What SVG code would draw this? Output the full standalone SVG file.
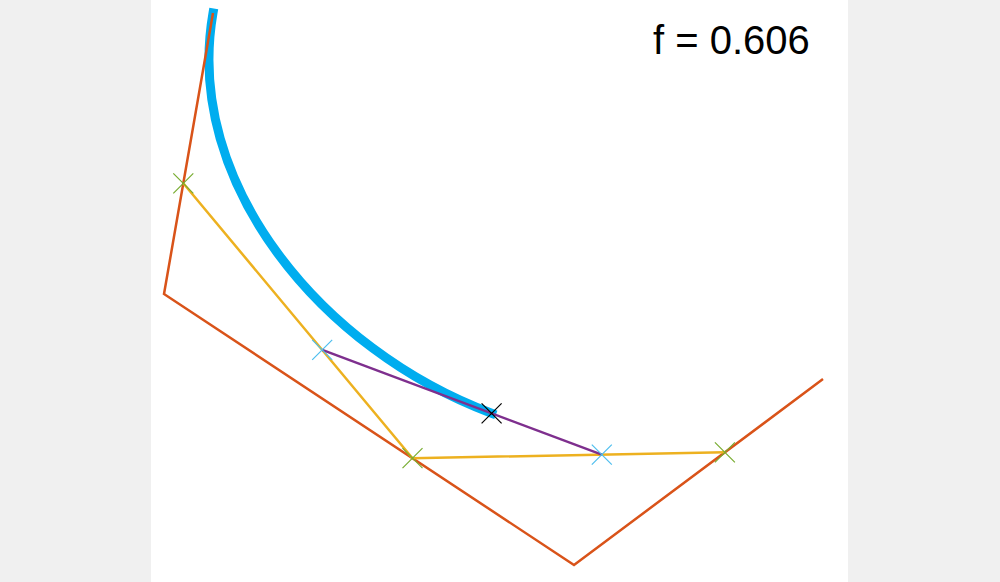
<svg xmlns="http://www.w3.org/2000/svg" width="1000" height="582" viewBox="0 0 1000 582">
<style>
.ln{fill:none;stroke-width:2.5;stroke-linejoin:miter}
.mk{fill:none;stroke-width:1.2}
</style>
<defs>
<path id="x" d="M-10,-10L10,10M-10,10L10,-10"/>
</defs>
<rect x="0" y="0" width="1000" height="582" fill="#f0f0f0"/>
<rect x="151" y="0" width="697" height="582" fill="#ffffff"/>
<g id="connectors">
<path id="curve" d="M213,13 C183.3,183.3 322.2,349.9 491.6,413.3" fill="none" stroke="#00adef" stroke-width="9" stroke-linecap="square"/>
<polyline class="ln" stroke="#d95319" points="213,13 164,294 574,565 823,379"/>
<polyline class="ln" stroke="#edb120" points="183.3,183.3 412.5,458.2 724.9,452.3"/>
<polyline class="ln" stroke="#7e2f8e" points="322.2,349.9 601.8,454.6"/>
</g>
<g id="level1" class="mk" stroke="#77ac30">
<use href="#x" x="183.3" y="183.3"/>
<use href="#x" x="412.5" y="458.2"/>
<use href="#x" x="724.9" y="452.3"/>
</g>
<g id="level2" class="mk" stroke="#4dbeee">
<use href="#x" x="322.2" y="349.9"/>
<use href="#x" x="601.8" y="454.6"/>
</g>
<g id="level3" class="mk" stroke="#000000">
<use href="#x" x="491.6" y="413.3"/>
</g>
<g id="label">
<text x="653" y="54" font-family="Liberation Sans, Arial, sans-serif" font-size="40" fill="#000">f = 0.606</text>
</g>
</svg>
